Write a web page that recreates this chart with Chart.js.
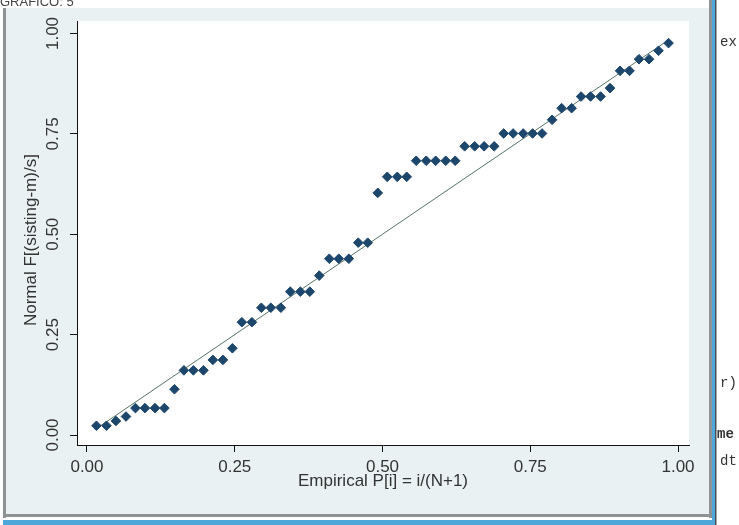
<!DOCTYPE html>
<html>
<head>
<meta charset="utf-8">
<script src="https://cdn.jsdelivr.net/npm/chart.js@4.4.1/dist/chart.umd.min.js"></script>
<style>
  html, body { margin: 0; padding: 0; background: #fff; }
  canvas { display: block; }
</style>
</head>
<body>
<canvas id="chart" width="739" height="525"></canvas>
<script>
// empirical P[i] = i/(N+1), N = 60
const empirical = [
  0.016, 0.033, 0.049, 0.066, 0.082, 0.098, 0.115, 0.131, 0.148, 0.164,
  0.180, 0.197, 0.213, 0.230, 0.246, 0.262, 0.279, 0.295, 0.311, 0.328,
  0.344, 0.361, 0.377, 0.393, 0.410, 0.426, 0.443, 0.459, 0.475, 0.492,
  0.508, 0.525, 0.541, 0.557, 0.574, 0.590, 0.607, 0.623, 0.639, 0.656,
  0.672, 0.689, 0.705, 0.721, 0.738, 0.754, 0.770, 0.787, 0.803, 0.820,
  0.836, 0.852, 0.869, 0.885, 0.902, 0.918, 0.934, 0.951, 0.967, 0.984
]
// Normal F[(sisting-m)/s]
const normalF = [
  0.023, 0.023, 0.035, 0.046, 0.067, 0.067, 0.067, 0.067, 0.114, 0.161,
  0.161, 0.161, 0.187, 0.187, 0.216, 0.281, 0.281, 0.317, 0.317, 0.317,
  0.357, 0.357, 0.357, 0.397, 0.439, 0.439, 0.439, 0.479, 0.479, 0.603,
  0.643, 0.643, 0.643, 0.683, 0.683, 0.683, 0.683, 0.683, 0.719, 0.719,
  0.719, 0.719, 0.751, 0.751, 0.751, 0.751, 0.751, 0.785, 0.814, 0.814,
  0.843, 0.843, 0.843, 0.864, 0.907, 0.907, 0.936, 0.936, 0.957, 0.976
]
const xTicks = [0, 0.25, 0.5, 0.75, 1]
const yTicks = [0, 0.25, 0.5, 0.75, 1]

const points = empirical.map((x, i) => ({x: x, y: normalF[i]}))
const first = empirical[0]
const last = empirical[empirical.length - 1]
const refLine = [{x: first, y: first}, {x: last, y: last}]

const labelFont = {family: '"Liberation Sans", Arial, sans-serif', size: 17}
const textColor = '#333'

// window frame, background, stray text around the graph
const framePlugin = {
  id: 'frame',
  beforeDraw(chart) {
    const {ctx, chartArea: {left, top, width, height}} = chart
    ctx.save()
    ctx.fillStyle = '#fff'
    ctx.fillRect(0, 0, 739, 525)
    ctx.fillStyle = '#e9f1f3'
    ctx.fillRect(6, 8, 704, 507)
    // borders
    ctx.fillStyle = '#8f9395'
    ctx.fillRect(3, 8, 3, 510)
    ctx.fillRect(3, 514, 710, 3)
    ctx.fillRect(709, 0, 3, 518)
    ctx.fillStyle = '#4ea7d9'
    ctx.fillRect(712, 0, 3, 525)
    ctx.fillRect(3, 520, 712, 5)
    ctx.fillStyle = '#4a4f55'
    ctx.fillRect(715, 0, 1.5, 525)
    // plot region
    ctx.fillStyle = '#fff'
    ctx.fillRect(left, top, width, height)
    // text outside the graph
    ctx.fillStyle = '#444'
    ctx.font = '13px "Liberation Sans", Arial, sans-serif'
    ctx.textBaseline = 'alphabetic'
    ctx.fillText('GRAFICO: 5', 0, 6)
    ctx.fillStyle = '#333'
    ctx.font = '14px "Liberation Mono", monospace'
    ctx.fillText('ex', 720, 46)
    ctx.fillText('r)', 720, 387)
    ctx.fillText('dt', 720, 465)
    ctx.font = 'bold 14px "Liberation Mono", monospace'
    ctx.fillText('me', 717, 438)
    ctx.restore()
  }
}

new Chart(document.getElementById('chart'), {
  type: 'scatter',
  data: {
    datasets: [
      {
        type: 'line',
        data: refLine,
        borderColor: '#587464',
        borderWidth: 1,
        pointRadius: 0,
        order: 2
      },
      {
        data: points,
        pointStyle: 'rectRot',
        pointRadius: 4.8,
        backgroundColor: '#1c466c',
        borderColor: '#1c466c',
        borderWidth: 1,
        order: 1
      }
    ]
  },
  options: {
    responsive: false,
    animation: false,
    events: [],
    layout: {
      padding: {left: 0, top: 21, right: 50, bottom: 30}
    },
    plugins: {
      legend: {display: false},
      tooltip: {enabled: false}
    },
    scales: {
      x: {
        type: 'linear',
        min: -0.0169,
        max: 1.0186,
        afterBuildTicks(scale) { scale.ticks = xTicks.map(v => ({value: v})) },
        afterFit(scale) {
          scale.height = 50
          scale.paddingLeft = 0
          scale.paddingRight = 0
        },
        grid: {drawOnChartArea: false, drawTicks: true, tickLength: 7, color: '#111', lineWidth: 1},
        border: {display: true, color: '#111', width: 1},
        ticks: {
          font: labelFont,
          color: textColor,
          padding: 5,
          maxRotation: 0,
          callback: v => v.toFixed(2)
        },
        title: {
          display: true,
          text: 'Empirical P[i] = i/(N+1)',
          font: labelFont,
          color: textColor,
          padding: {top: 0, bottom: 3}
        }
      },
      y: {
        type: 'linear',
        min: -0.0249,
        max: 1.0311,
        afterBuildTicks(scale) { scale.ticks = yTicks.map(v => ({value: v})) },
        afterFit(scale) {
          scale.width = 77
          scale.paddingTop = 0
          scale.paddingBottom = 0
        },
        grid: {drawOnChartArea: false, drawTicks: true, tickLength: 7, color: '#111', lineWidth: 1},
        border: {display: true, color: '#111', width: 1},
        ticks: {
          font: labelFont,
          color: textColor,
          padding: 0,
          minRotation: 90,
          maxRotation: 90,
          crossAlign: 'center',
          callback: v => v.toFixed(2)
        },
        title: {
          display: true,
          text: 'Normal F[(sisting-m)/s]   ',
          font: labelFont,
          color: textColor,
          padding: {top: 21, bottom: 0}
        }
      }
    }
  },
  plugins: [framePlugin]
})
</script>
</body>
</html>
